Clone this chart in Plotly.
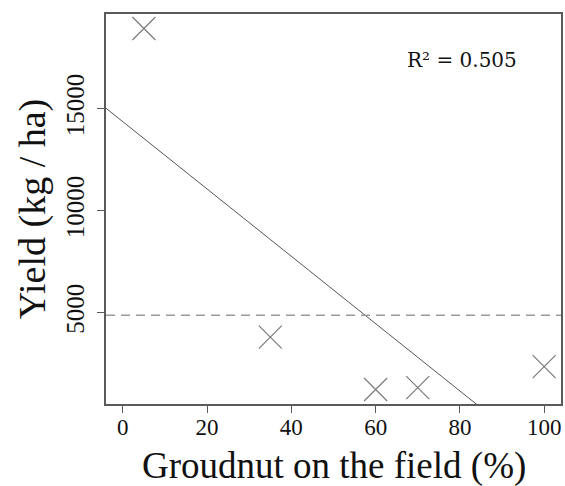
import plotly.graph_objects as go

# Field observations
groundnut_pct = [5, 35, 60, 70, 100]
yield_kg_ha = [18930, 3800, 1230, 1320, 2350]

# Fitted linear trend and reference level
fit_intercept = 14360
fit_slope = -165
reference_yield = 4870
r_squared = 0.505

x_ticks = [0, 20, 40, 60, 80, 100]
y_ticks = [5000, 10000, 15000]

x_axis_range = [-4, 104]
y_axis_range = [520, 19640]

fit_x = [x_axis_range[0], x_axis_range[1]]
fit_y = [fit_intercept + fit_slope * v for v in fit_x]

serif = "Liberation Serif"

fig = go.Figure()

fig.add_trace(go.Scatter(
    x=fit_x, y=fit_y, mode="lines",
    line=dict(color="#555555", width=1),
    hoverinfo="skip", showlegend=False,
))

fig.add_trace(go.Scatter(
    x=fit_x, y=[reference_yield, reference_yield], mode="lines",
    line=dict(color="#9a9a9a", width=1.6, dash="9px,6px"),
    hoverinfo="skip", showlegend=False,
))

fig.add_trace(go.Scatter(
    x=groundnut_pct, y=yield_kg_ha, mode="markers",
    marker=dict(symbol="x-thin", size=23, line=dict(color="#7a7a7a", width=1.2)),
    showlegend=False, cliponaxis=False,
))

fig.add_annotation(
    x=80.5, y=17380, xref="x", yref="y",
    text=f"R\u00b2 = {r_squared:.3f}", showarrow=False,
    font=dict(family="DejaVu Serif", size=20, color="#111111"),
    xanchor="center", yanchor="middle",
)

fig.add_annotation(
    x=0.5, y=-0.158, xref="paper", yref="paper",
    text="Groudnut on the field (%)", showarrow=False,
    font=dict(family=serif, size=37, color="#111111"),
    xanchor="center", yanchor="middle",
)

fig.add_annotation(
    x=-0.162, y=0.5, xref="paper", yref="paper",
    text="Yield (kg / ha)", showarrow=False, textangle=-90,
    font=dict(family=serif, size=38, color="#111111"),
    xanchor="center", yanchor="middle",
)

axis_common = dict(
    showline=True, mirror=True, linecolor="#5a5a5a", linewidth=1.5,
    showgrid=False, zeroline=False,
    ticks="outside", ticklen=7, tickwidth=1.2, tickcolor="#5a5a5a",
)

fig.update_xaxes(range=x_axis_range, tickvals=x_ticks,
                 ticktext=[str(v) for v in x_ticks],
                 tickfont=dict(family=serif, size=23, color="#111111"),
                 ticklabelstandoff=-5, **axis_common)
fig.update_yaxes(range=y_axis_range, tickvals=y_ticks,
                 ticktext=[str(v) for v in y_ticks], tickangle=-90,
                 tickfont=dict(family=serif, size=25, color="#111111"),
                 ticklabelstandoff=3, **axis_common)

fig.update_layout(
    width=565, height=486,
    margin=dict(l=106, r=2, t=14, b=82),
    plot_bgcolor="white", paper_bgcolor="white",
)

fig.write_html("out.html")
